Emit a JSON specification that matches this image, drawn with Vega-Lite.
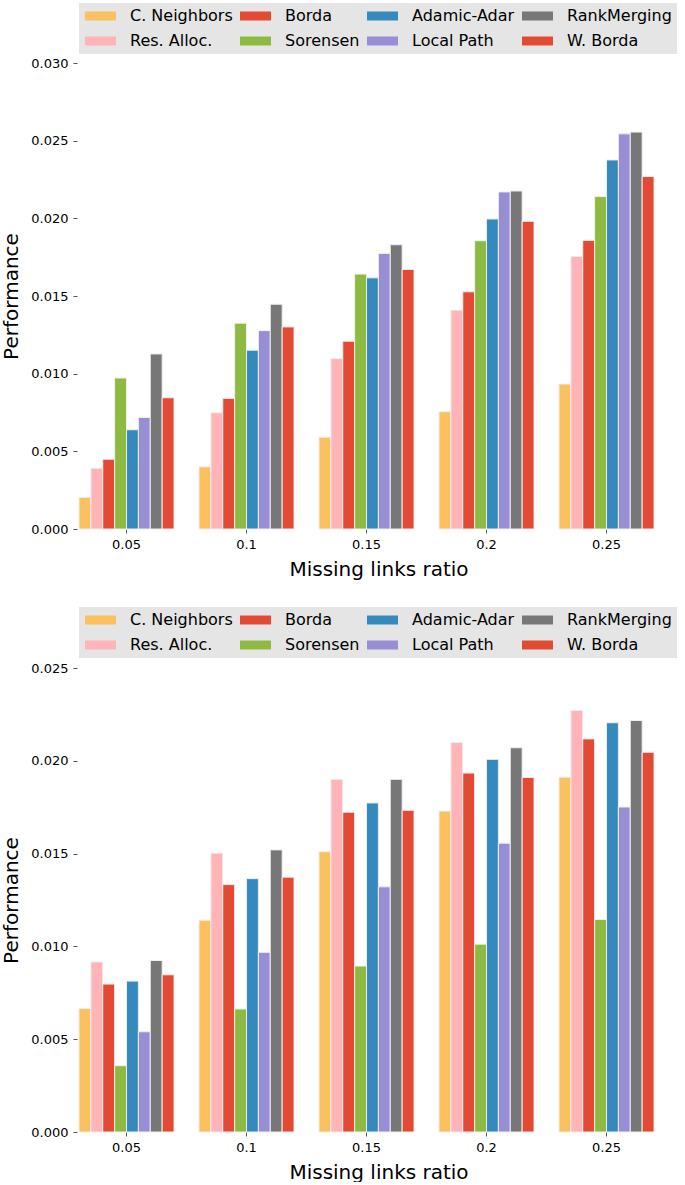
{
  "$schema": "https://vega.github.io/schema/vega-lite/v6.json",
  "padding": {"left": 1, "top": 3, "right": 0, "bottom": 0},
  "background": "white",
  "config": {
    "view": {"stroke": null},
    "font": "DejaVu Sans",
    "axis": {
      "labelFont": "DejaVu Sans", "labelFontSize": 13, "labelColor": "#000000",
      "titleFont": "DejaVu Sans", "titleFontSize": 20, "titleFontWeight": "normal", "titleColor": "#000000",
      "tickColor": "#555555", "tickSize": 4, "tickWidth": 1, "domain": false, "grid": false, "labelPadding": 5
    },
    "legend": {
      "labelFont": "DejaVu Sans", "labelFontSize": 16, "labelColor": "#000000"
    }
  },
  "datasets": {
    "perf_a": [
      {"ratio": "0.05", "method": "C. Neighbors", "value": 0.00204},
      {"ratio": "0.05", "method": "Res. Alloc.", "value": 0.00391},
      {"ratio": "0.05", "method": "Borda", "value": 0.00449},
      {"ratio": "0.05", "method": "Sorensen", "value": 0.00972},
      {"ratio": "0.05", "method": "Adamic-Adar", "value": 0.00639},
      {"ratio": "0.05", "method": "Local Path", "value": 0.00718},
      {"ratio": "0.05", "method": "RankMerging", "value": 0.01127},
      {"ratio": "0.05", "method": "W. Borda", "value": 0.00845},
      {"ratio": "0.1", "method": "C. Neighbors", "value": 0.0040},
      {"ratio": "0.1", "method": "Res. Alloc.", "value": 0.00748},
      {"ratio": "0.1", "method": "Borda", "value": 0.00841},
      {"ratio": "0.1", "method": "Sorensen", "value": 0.01325},
      {"ratio": "0.1", "method": "Adamic-Adar", "value": 0.01151},
      {"ratio": "0.1", "method": "Local Path", "value": 0.01277},
      {"ratio": "0.1", "method": "RankMerging", "value": 0.01447},
      {"ratio": "0.1", "method": "W. Borda", "value": 0.01301},
      {"ratio": "0.15", "method": "C. Neighbors", "value": 0.00591},
      {"ratio": "0.15", "method": "Res. Alloc.", "value": 0.01097},
      {"ratio": "0.15", "method": "Borda", "value": 0.01209},
      {"ratio": "0.15", "method": "Sorensen", "value": 0.01641},
      {"ratio": "0.15", "method": "Adamic-Adar", "value": 0.01617},
      {"ratio": "0.15", "method": "Local Path", "value": 0.01774},
      {"ratio": "0.15", "method": "RankMerging", "value": 0.0183},
      {"ratio": "0.15", "method": "W. Borda", "value": 0.01671},
      {"ratio": "0.2", "method": "C. Neighbors", "value": 0.00755},
      {"ratio": "0.2", "method": "Res. Alloc.", "value": 0.01409},
      {"ratio": "0.2", "method": "Borda", "value": 0.01527},
      {"ratio": "0.2", "method": "Sorensen", "value": 0.01856},
      {"ratio": "0.2", "method": "Adamic-Adar", "value": 0.01996},
      {"ratio": "0.2", "method": "Local Path", "value": 0.0217},
      {"ratio": "0.2", "method": "RankMerging", "value": 0.02176},
      {"ratio": "0.2", "method": "W. Borda", "value": 0.01981},
      {"ratio": "0.25", "method": "C. Neighbors", "value": 0.00933},
      {"ratio": "0.25", "method": "Res. Alloc.", "value": 0.01755},
      {"ratio": "0.25", "method": "Borda", "value": 0.01858},
      {"ratio": "0.25", "method": "Sorensen", "value": 0.0214},
      {"ratio": "0.25", "method": "Adamic-Adar", "value": 0.02376},
      {"ratio": "0.25", "method": "Local Path", "value": 0.02544},
      {"ratio": "0.25", "method": "RankMerging", "value": 0.02555},
      {"ratio": "0.25", "method": "W. Borda", "value": 0.02269}
    ],
    "perf_b": [
      {"ratio": "0.05", "method": "C. Neighbors", "value": 0.00665},
      {"ratio": "0.05", "method": "Res. Alloc.", "value": 0.00916},
      {"ratio": "0.05", "method": "Borda", "value": 0.00797},
      {"ratio": "0.05", "method": "Sorensen", "value": 0.00357},
      {"ratio": "0.05", "method": "Adamic-Adar", "value": 0.00813},
      {"ratio": "0.05", "method": "Local Path", "value": 0.0054},
      {"ratio": "0.05", "method": "RankMerging", "value": 0.00924},
      {"ratio": "0.05", "method": "W. Borda", "value": 0.00847},
      {"ratio": "0.1", "method": "C. Neighbors", "value": 0.01141},
      {"ratio": "0.1", "method": "Res. Alloc.", "value": 0.01502},
      {"ratio": "0.1", "method": "Borda", "value": 0.01333},
      {"ratio": "0.1", "method": "Sorensen", "value": 0.00663},
      {"ratio": "0.1", "method": "Adamic-Adar", "value": 0.01365},
      {"ratio": "0.1", "method": "Local Path", "value": 0.00968},
      {"ratio": "0.1", "method": "RankMerging", "value": 0.0152},
      {"ratio": "0.1", "method": "W. Borda", "value": 0.01373},
      {"ratio": "0.15", "method": "C. Neighbors", "value": 0.0151},
      {"ratio": "0.15", "method": "Res. Alloc.", "value": 0.019},
      {"ratio": "0.15", "method": "Borda", "value": 0.01723},
      {"ratio": "0.15", "method": "Sorensen", "value": 0.00894},
      {"ratio": "0.15", "method": "Adamic-Adar", "value": 0.01773},
      {"ratio": "0.15", "method": "Local Path", "value": 0.01321},
      {"ratio": "0.15", "method": "RankMerging", "value": 0.019},
      {"ratio": "0.15", "method": "W. Borda", "value": 0.01733},
      {"ratio": "0.2", "method": "C. Neighbors", "value": 0.01729},
      {"ratio": "0.2", "method": "Res. Alloc.", "value": 0.02098},
      {"ratio": "0.2", "method": "Borda", "value": 0.01934},
      {"ratio": "0.2", "method": "Sorensen", "value": 0.01012},
      {"ratio": "0.2", "method": "Adamic-Adar", "value": 0.02008},
      {"ratio": "0.2", "method": "Local Path", "value": 0.01556},
      {"ratio": "0.2", "method": "RankMerging", "value": 0.0207},
      {"ratio": "0.2", "method": "W. Borda", "value": 0.0191},
      {"ratio": "0.25", "method": "C. Neighbors", "value": 0.01912},
      {"ratio": "0.25", "method": "Res. Alloc.", "value": 0.02271},
      {"ratio": "0.25", "method": "Borda", "value": 0.02118},
      {"ratio": "0.25", "method": "Sorensen", "value": 0.01145},
      {"ratio": "0.25", "method": "Adamic-Adar", "value": 0.02205},
      {"ratio": "0.25", "method": "Local Path", "value": 0.01751},
      {"ratio": "0.25", "method": "RankMerging", "value": 0.02217},
      {"ratio": "0.25", "method": "W. Borda", "value": 0.02046}
    ]
  },
  "resolve": {"scale": {"color": "independent", "x": "independent", "y": "independent"}, "legend": {"color": "independent"}},
  "spacing": 28,
  "vconcat": [
    {
      "data": {"name": "perf_a"},
      "width": 603,
      "height": 466,
      "mark": {"type": "bar", "stroke": "#EEEEEE", "strokeWidth": 1},
      "encoding": {
        "x": {"field": "ratio", "type": "nominal", "sort": ["0.05", "0.1", "0.15", "0.2", "0.25"],
          "scale": {"paddingInner": 0.208, "paddingOuter": 0.1165, "align": 0.0715},
          "axis": {"title": "Missing links ratio", "labelAngle": 0, "titlePadding": 8}},
        "xOffset": {"field": "method", "type": "nominal",
          "scale": {"domain": ["C. Neighbors", "Res. Alloc.", "Borda", "Sorensen", "Adamic-Adar", "Local Path", "RankMerging", "W. Borda"]}},
        "y": {"field": "value", "type": "quantitative",
          "scale": {"domain": [0, 0.03], "nice": false},
          "axis": {"title": "Performance", "format": ".3f", "values": [0, 0.005, 0.01, 0.015, 0.02, 0.025, 0.03], "titlePadding": 9}},
        "color": {"field": "method", "type": "nominal",
          "scale": {"domain": ["C. Neighbors", "Res. Alloc.", "Borda", "Sorensen", "Adamic-Adar", "Local Path", "RankMerging", "W. Borda"],
            "range": ["#FBC15E", "#FFB5B8", "#E24A33", "#8EBA42", "#348ABD", "#988ED5", "#777777", "#E24A33"]},
          "legend": {"title": null, "orient": "none", "legendX": 2, "legendY": -60, "columns": 4, "fillColor": "#E5E5E5",
            "padding": 5, "symbolType": "M-3.44,-1H3.44V1H-3.44Z", "symbolSize": 81, "symbolOffset": 8.5, "symbolStrokeWidth": 0, "symbolOpacity": 1,
            "labelOffset": 21.5, "columnPadding": 6, "rowPadding": 9}}
      }
    },
    {
      "data": {"name": "perf_b"},
      "width": 603,
      "height": 464,
      "mark": {"type": "bar", "stroke": "#EEEEEE", "strokeWidth": 1},
      "encoding": {
        "x": {"field": "ratio", "type": "nominal", "sort": ["0.05", "0.1", "0.15", "0.2", "0.25"],
          "scale": {"paddingInner": 0.208, "paddingOuter": 0.1165, "align": 0.0715},
          "axis": {"title": "Missing links ratio", "labelAngle": 0, "titlePadding": 8}},
        "xOffset": {"field": "method", "type": "nominal",
          "scale": {"domain": ["C. Neighbors", "Res. Alloc.", "Borda", "Sorensen", "Adamic-Adar", "Local Path", "RankMerging", "W. Borda"]}},
        "y": {"field": "value", "type": "quantitative",
          "scale": {"domain": [0, 0.025], "nice": false},
          "axis": {"title": "Performance", "format": ".3f", "values": [0, 0.005, 0.01, 0.015, 0.02, 0.025], "titlePadding": 9}},
        "color": {"field": "method", "type": "nominal",
          "scale": {"domain": ["C. Neighbors", "Res. Alloc.", "Borda", "Sorensen", "Adamic-Adar", "Local Path", "RankMerging", "W. Borda"],
            "range": ["#FBC15E", "#FFB5B8", "#E24A33", "#8EBA42", "#348ABD", "#988ED5", "#777777", "#E24A33"]},
          "legend": {"title": null, "orient": "none", "legendX": 2, "legendY": -61, "columns": 4, "fillColor": "#E5E5E5",
            "padding": 5, "symbolType": "M-3.44,-1H3.44V1H-3.44Z", "symbolSize": 81, "symbolOffset": 8.5, "symbolStrokeWidth": 0, "symbolOpacity": 1,
            "labelOffset": 21.5, "columnPadding": 6, "rowPadding": 9}}
      }
    }
  ]
}
